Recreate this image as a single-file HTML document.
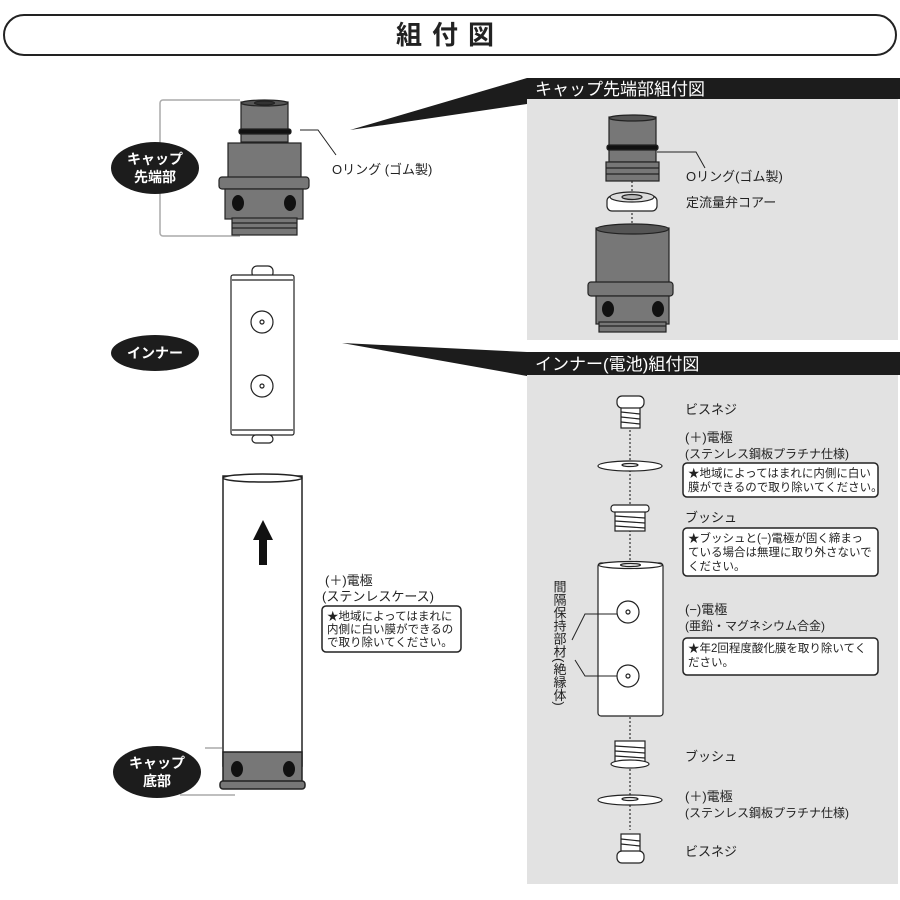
<!DOCTYPE html>
<html><head><meta charset="utf-8"><style>
html,body{margin:0;padding:0;background:#fff;}
svg{display:block;}
text{font-family:"Liberation Sans","Noto Sans CJK JP",sans-serif;fill:#222;}
</style></head><body>
<svg width="900" height="900" viewBox="0 0 900 900" xmlns="http://www.w3.org/2000/svg">
<!-- title -->
<rect x="4" y="15" width="892" height="40" rx="20" fill="#fff" stroke="#222" stroke-width="2"/>
<text x="450" y="44" font-size="26" text-anchor="middle" letter-spacing="10" font-weight="bold">組付図</text>

<!-- right panels -->
<rect x="527" y="98" width="371" height="242" fill="#e2e2e2"/>
<rect x="527" y="78" width="373" height="21" fill="#1c1c1c"/>
<text x="535" y="95" font-size="17" style="fill:#fff">キャップ先端部組付図</text>
<polygon points="350,130 527,78 527,104" fill="#1c1c1c"/>

<rect x="527" y="374" width="371" height="510" fill="#e2e2e2"/>
<rect x="527" y="352" width="373" height="23" fill="#1c1c1c"/>
<text x="535" y="370" font-size="17" style="fill:#fff">インナー(電池)組付図</text>
<polygon points="342,343 527,352 527,376" fill="#1c1c1c"/>

<!-- LEFT: cap tip -->
<path d="M240 100 H163 a3 3 0 0 0 -3 3 V233 a3 3 0 0 0 3 3 H240" fill="none" stroke="#aaa" stroke-width="1.5"/>
<ellipse cx="155" cy="168" rx="44" ry="26" fill="#1c1c1c"/>
<text x="155" y="164" font-size="14" text-anchor="middle" style="fill:#fff" font-weight="bold">キャップ</text>
<text x="155" y="182" font-size="14" text-anchor="middle" style="fill:#fff" font-weight="bold">先端部</text>
<g stroke="#222" stroke-width="1.2">
<rect x="241" y="102" width="47" height="40" fill="#777"/>
<ellipse cx="264.5" cy="103" rx="23.5" ry="3" fill="#555"/>
<ellipse cx="264.5" cy="103" rx="10" ry="2" fill="#333"/>
<rect x="239" y="129" width="52" height="5" rx="2" fill="#111"/>
<rect x="228" y="143" width="73" height="36" fill="#777"/>
<rect x="219" y="177" width="90" height="12" rx="3" fill="#777"/>
<rect x="225" y="189" width="78" height="30" fill="#777"/>
<rect x="232" y="218" width="65" height="17" fill="#777"/>
<line x1="232" y1="223" x2="297" y2="223"/><line x1="232" y1="228" x2="297" y2="228"/>
</g>
<ellipse cx="238" cy="203" rx="6" ry="8" fill="#111"/>
<ellipse cx="290" cy="203" rx="6" ry="8" fill="#111"/>
<polyline points="300,130 318,130 336,155" fill="none" stroke="#222" stroke-width="1"/>
<text x="332" y="174" font-size="13">Oリング (ゴム製)</text>

<!-- LEFT: inner -->
<ellipse cx="155" cy="353" rx="44" ry="18" fill="#1c1c1c"/>
<text x="155" y="358" font-size="14" text-anchor="middle" style="fill:#fff" font-weight="bold">インナー</text>
<g stroke="#222" stroke-width="1.2" fill="#fff">
<rect x="252" y="266" width="21" height="12" rx="5"/>
<rect x="231" y="275" width="63" height="160" rx="2"/>
<line x1="232" y1="280" x2="293" y2="280"/>
<line x1="232" y1="430" x2="293" y2="430"/>
<rect x="252" y="435" width="21" height="8" rx="4"/>
<circle cx="262" cy="322" r="11"/><circle cx="262" cy="322" r="2"/>
<circle cx="262" cy="386" r="11"/><circle cx="262" cy="386" r="2"/>
</g>

<!-- LEFT: case -->
<g stroke="#222" stroke-width="1.5" fill="#fff">
<rect x="223" y="476" width="79" height="290"/>
<ellipse cx="262.5" cy="478" rx="39.5" ry="4"/>
<rect x="223" y="752" width="79" height="30" fill="#777"/>
<rect x="220" y="781" width="85" height="8" rx="3" fill="#777"/>
</g>
<ellipse cx="237" cy="769" rx="6" ry="8" fill="#111"/>
<ellipse cx="289" cy="769" rx="6" ry="8" fill="#111"/>
<polygon points="263,520 273,540 267,540 267,565 259,565 259,540 253,540" fill="#111"/>
<line x1="205" y1="748" x2="222" y2="748" stroke="#aaa" stroke-width="1.5"/>
<line x1="180" y1="795" x2="235" y2="795" stroke="#aaa" stroke-width="1.5"/>
<ellipse cx="157" cy="772" rx="44" ry="26" fill="#1c1c1c"/>
<text x="157" y="768" font-size="14" text-anchor="middle" style="fill:#fff" font-weight="bold">キャップ</text>
<text x="157" y="786" font-size="14" text-anchor="middle" style="fill:#fff" font-weight="bold">底部</text>
<text x="325" y="585" font-size="13">(＋)電極</text>
<text x="322" y="601" font-size="13">(ステンレスケース)</text>
<rect x="322" y="606" width="139" height="46" rx="4" fill="#fff" stroke="#222" stroke-width="1.5"/>
<text x="327" y="620" font-size="11.5">★地域によってはまれに</text>
<text x="327" y="633" font-size="11.5">内側に白い膜ができるの</text>
<text x="327" y="646" font-size="11.5">で取り除いてください。</text>

<!-- RIGHT TOP: cap parts -->
<line x1="632" y1="165" x2="632" y2="232" stroke="#777" stroke-width="2" stroke-dasharray="2,2"/>
<g stroke="#222" stroke-width="1.2">
<rect x="609" y="117" width="47" height="45" fill="#777"/>
<ellipse cx="632.5" cy="118" rx="23.5" ry="3" fill="#555"/>
<rect x="607" y="145" width="51" height="5" rx="2" fill="#111"/>
<rect x="606" y="162" width="53" height="19" fill="#777"/>
<line x1="606" y1="168" x2="659" y2="168"/><line x1="606" y1="174" x2="659" y2="174"/>
<rect x="607" y="196" width="50" height="15" rx="5" fill="#fff"/>
<ellipse cx="632" cy="197" rx="22" ry="5" fill="#ddd"/>
<ellipse cx="632" cy="197" rx="10" ry="2.5" fill="#bbb"/>
<rect x="596" y="228" width="73" height="56" fill="#777"/>
<ellipse cx="632.5" cy="229" rx="36" ry="5" fill="#555"/>
<rect x="588" y="282" width="85" height="14" rx="3" fill="#777"/>
<rect x="596" y="296" width="73" height="28" fill="#777"/>
<rect x="599" y="322" width="67" height="10" fill="#777"/>
<line x1="599" y1="326" x2="666" y2="326"/>
</g>
<ellipse cx="608" cy="309" rx="6" ry="8" fill="#111"/>
<ellipse cx="658" cy="309" rx="6" ry="8" fill="#111"/>
<polyline points="657,152 696,152 705,168" fill="none" stroke="#222" stroke-width="1"/>
<text x="686" y="181" font-size="13">Oリング(ゴム製)</text>
<text x="686" y="207" font-size="13">定流量弁コアー</text>

<!-- RIGHT BOTTOM: inner parts -->
<line x1="630" y1="410" x2="630" y2="562" stroke="#777" stroke-width="2" stroke-dasharray="2,2"/>
<line x1="630" y1="717" x2="630" y2="830" stroke="#777" stroke-width="2" stroke-dasharray="2,2"/>
<g stroke="#222" stroke-width="1.2" fill="#fff">
<rect x="621" y="407" width="19" height="21"/>
<line x1="621" y1="412" x2="640" y2="414"/><line x1="621" y1="417" x2="640" y2="419"/><line x1="621" y1="422" x2="640" y2="424"/>
<rect x="617" y="396" width="27" height="12" rx="5"/>
<ellipse cx="630" cy="466" rx="32" ry="5"/>
<ellipse cx="630" cy="465" rx="8" ry="1.5"/>
<rect x="615" y="510" width="30" height="21"/>
<line x1="615" y1="516" x2="645" y2="518"/><line x1="615" y1="521" x2="645" y2="523"/><line x1="615" y1="526" x2="645" y2="528"/>
<rect x="611" y="505" width="38" height="7" rx="3"/>
<rect x="598" y="563" width="65" height="153" rx="3"/>
<ellipse cx="630.5" cy="565" rx="32" ry="3.5"/>
<ellipse cx="630.5" cy="565" rx="10" ry="1.5"/>
<circle cx="628" cy="612" r="11"/><circle cx="628" cy="612" r="2"/>
<circle cx="628" cy="676" r="11"/><circle cx="628" cy="676" r="2"/>
<rect x="615" y="741" width="30" height="21"/>
<line x1="615" y1="746" x2="645" y2="748"/><line x1="615" y1="751" x2="645" y2="753"/><line x1="615" y1="756" x2="645" y2="758"/>
<ellipse cx="630" cy="764" rx="19" ry="4"/>
<ellipse cx="630" cy="800" rx="32" ry="5"/>
<ellipse cx="630" cy="799" rx="8" ry="1.5"/>
<rect x="621" y="834" width="19" height="20"/>
<line x1="621" y1="839" x2="640" y2="841"/><line x1="621" y1="844" x2="640" y2="846"/>
<rect x="617" y="851" width="27" height="12" rx="5"/>
</g>
<polyline points="572,640 585,614 617,614" fill="none" stroke="#222" stroke-width="1"/>
<polyline points="575,660 585,676 617,676" fill="none" stroke="#222" stroke-width="1"/>
<text font-size="13" style="writing-mode:vertical-rl" x="559" y="580">間隔保持部材(絶縁体)</text>

<text x="685" y="414" font-size="13">ビスネジ</text>
<text x="685" y="442" font-size="13">(＋)電極</text>
<text x="685" y="458" font-size="12">(ステンレス鋼板プラチナ仕様)</text>
<rect x="683" y="463" width="195" height="34" rx="4" fill="#fff" stroke="#222" stroke-width="1.5"/>
<text x="688" y="477" font-size="11.5">★地域によってはまれに内側に白い</text>
<text x="688" y="491" font-size="11.5">膜ができるので取り除いてください。</text>
<text x="685" y="522" font-size="13">ブッシュ</text>
<rect x="683" y="528" width="195" height="48" rx="4" fill="#fff" stroke="#222" stroke-width="1.5"/>
<text x="688" y="542" font-size="11.5">★ブッシュと(−)電極が固く締まっ</text>
<text x="688" y="556" font-size="11.5">ている場合は無理に取り外さないで</text>
<text x="688" y="570" font-size="11.5">ください。</text>
<text x="685" y="614" font-size="13">(−)電極</text>
<text x="685" y="630" font-size="12">(亜鉛・マグネシウム合金)</text>
<rect x="683" y="638" width="195" height="37" rx="4" fill="#fff" stroke="#222" stroke-width="1.5"/>
<text x="688" y="652" font-size="11.5">★年2回程度酸化膜を取り除いてく</text>
<text x="688" y="666" font-size="11.5">ださい。</text>
<text x="685" y="761" font-size="13">ブッシュ</text>
<text x="685" y="801" font-size="13">(＋)電極</text>
<text x="685" y="817" font-size="12">(ステンレス鋼板プラチナ仕様)</text>
<text x="685" y="856" font-size="13">ビスネジ</text>
</svg>
</body></html>
